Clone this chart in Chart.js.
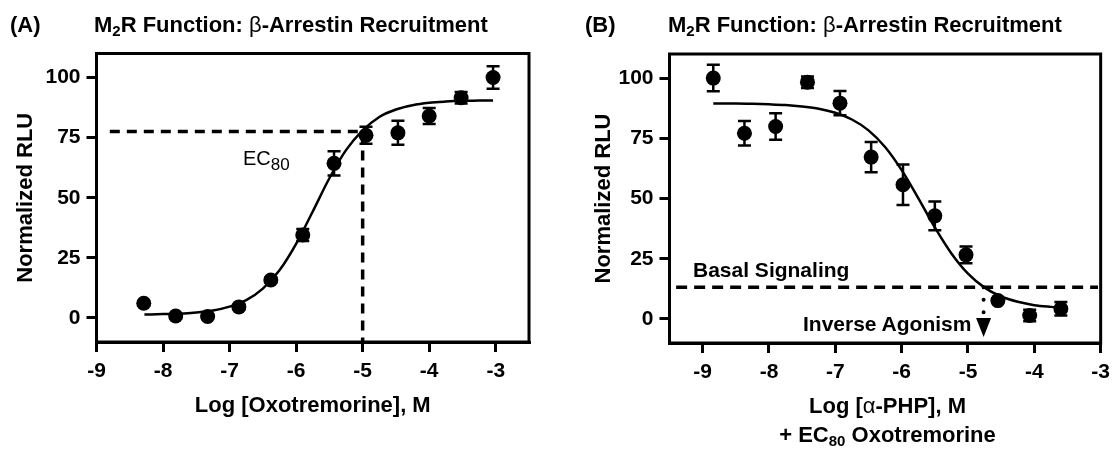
<!DOCTYPE html>
<html>
<head>
<meta charset="utf-8">
<script src="https://cdn.jsdelivr.net/npm/chart.js@4.4.1/dist/chart.umd.min.js"></script>
<style>
  body { margin: 0; background: #fff; }
  #wrap { position: relative; width: 1117px; height: 449px; overflow: hidden; font-family: "Liberation Sans", Arial, sans-serif; color: #000; }
  canvas { position: absolute; top: 0; }
  #chartA { left: 0; }
  #chartB { left: 558px; }
  .t { position: absolute; white-space: nowrap; line-height: 1; }
  .b22 { font-size: 22px; font-weight: bold; }
  .b21 { font-size: 21px; font-weight: bold; }
  .r20 { font-size: 20px; }
  .greek { font-weight: normal; }
  .sub { position: relative; top: 4px; font-size: 15px; }
</style>
</head>
<body>
<div id="wrap">
  <canvas id="chartA" width="558" height="449"></canvas>
  <canvas id="chartB" width="559" height="449"></canvas>

  <div class="t b22" style="left:10px;top:14.4px">(A)</div>
  <div class="t b22" style="left:94px;top:14.4px">M<span class="sub">2</span>R Function: <span class="greek">β</span>-Arrestin Recruitment</div>
  <div class="t b22" style="left:585px;top:14.4px">(B)</div>
  <div class="t b22" style="left:668px;top:14.4px">M<span class="sub">2</span>R Function: <span class="greek">β</span>-Arrestin Recruitment</div>

  <div class="t r20" style="left:243px;top:148px">EC<span class="sub" style="font-size:17px;top:5px">80</span></div>

  <div class="t b21" style="left:693px;top:259.2px">Basal Signaling</div>
  <div class="t b21" style="left:803px;top:313.2px">Inverse Agonism</div>

  <div class="t b22" style="left:887.5px;top:395.4px;transform:translateX(-50%)">Log [<span class="greek">α</span>-PHP], M</div>
  <div class="t b22" style="left:887.5px;top:424.4px;transform:translateX(-50%)">+ EC<span class="sub">80</span> Oxotremorine</div>
</div>

<script>
const FONT = '"Liberation Sans", Arial, sans-serif';

// axis ticks
const xTicks = [-9, -8, -7, -6, -5, -4, -3];
const yTicks = [0, 25, 50, 75, 100];

// (A) Oxotremorine agonist curve
const logOxo = [-8.29, -7.81, -7.33, -6.86, -6.38, -5.90, -5.43, -4.95, -4.47, -4.00, -3.52, -3.04];
const rluOxo = [6.1, 0.8, 0.6, 4.6, 15.8, 34.5, 64.3, 76.0, 77.0, 84.0, 91.6, 100.0];
const semOxo = [1, 1, 1, 1, 1, 2.5, 5, 3.5, 5, 3.3, 2.4, 4.7];
const fitOxoX = [-8.28, -8.0, -7.75, -7.5, -7.25, -7.0, -6.75, -6.5, -6.25, -6.0, -5.75, -5.5, -5.25, -5.0, -4.75, -4.5, -4.25, -4.0, -3.75, -3.5, -3.25, -3.04];
const fitOxoY = [1.4, 1.6, 1.8, 2.3, 3.1, 4.7, 7.4, 12.2, 19.8, 30.8, 44.3, 58.1, 69.8, 78.0, 83.6, 86.7, 88.5, 89.5, 90.0, 90.3, 90.4, 90.5];
const ec80X = [-8.8, -5.0, -5.0];
const ec80Y = [77.6, 77.6, -10];

// (B) alpha-PHP inverse agonist curve
const logPhp = [-8.84, -8.37, -7.90, -7.42, -6.93, -6.46, -5.98, -5.50, -5.03, -4.55, -4.07, -3.60];
const rluPhp = [100.0, 77.1, 79.9, 98.3, 89.6, 67.2, 55.7, 42.8, 26.6, 7.6, 1.4, 4.2];
const semPhp = [5.5, 5.1, 5.5, 2.4, 5.0, 6.3, 8.4, 6.0, 3.5, 1, 2.4, 2.8];
const fitPhpX = [-8.84, -8.5, -8.25, -8.0, -7.75, -7.5, -7.25, -7.0, -6.75, -6.5, -6.25, -6.0, -5.75, -5.5, -5.25, -5.0, -4.75, -4.5, -4.25, -4.0, -3.75, -3.6];
const fitPhpY = [89.4, 89.4, 89.3, 89.1, 88.8, 88.2, 87.3, 85.6, 82.8, 78.3, 71.4, 61.8, 50.2, 38.0, 27.2, 18.8, 13.0, 9.3, 7.1, 5.7, 5.0, 4.7];
const basalX = [-9.4, -3.04];
const basalY = [13.2, 13.2];
const inverseX = [-4.765, -4.765];
const inverseY = [13.2, 2.5];
const arrowTop = 0.4, arrowTip = -7.5;

const pts = (xs, ys) => xs.map((x, i) => ({ x: x, y: ys[i] }));

function panelPlugin(xs, ys, errs, extra) {
  return {
    id: 'panel',
    afterDatasetsDraw(chart) {
      const ctx = chart.ctx;
      const x = chart.scales.x, y = chart.scales.y;
      ctx.save();
      ctx.strokeStyle = '#000';
      ctx.fillStyle = '#000';
      ctx.lineWidth = 2.5;
      xs.forEach((v, i) => {
        const px = x.getPixelForValue(v);
        const top = y.getPixelForValue(ys[i] + errs[i]);
        const bot = y.getPixelForValue(ys[i] - errs[i]);
        ctx.beginPath();
        ctx.moveTo(px, top); ctx.lineTo(px, bot);
        ctx.moveTo(px - 6.5, top); ctx.lineTo(px + 6.5, top);
        ctx.moveTo(px - 6.5, bot); ctx.lineTo(px + 6.5, bot);
        ctx.stroke();
      });
      const a = chart.chartArea;
      ctx.lineWidth = 3;
      ctx.strokeRect(a.left, a.top, a.right - a.left, a.bottom - a.top);
      if (extra) extra(ctx, x, y);
      ctx.restore();
    }
  };
}

function axes(xmin, xmax, yWidth, xHeight, yTitlePad, xTitle) {
  const tickFont = { family: FONT, size: 21, weight: 'bold' };
  const titleFont = { family: FONT, size: 22, weight: 'bold' };
  return {
    x: {
      type: 'linear', min: xmin, max: xmax,
      afterBuildTicks: s => { s.ticks = xTicks.map(v => ({ value: v })); },
      afterFit: s => { s.height = xHeight; },
      grid: { drawOnChartArea: false, drawTicks: true, tickLength: 10, lineWidth: 3, color: '#000' },
      border: { display: true, width: 3, color: '#000' },
      ticks: { color: '#000', font: tickFont, padding: 7, maxRotation: 0 },
      title: { display: !!xTitle, text: xTitle || '', color: '#000', font: titleFont, padding: { top: 0, bottom: 30 } }
    },
    y: {
      type: 'linear', min: -10, max: 110,
      afterBuildTicks: s => { s.ticks = yTicks.map(v => ({ value: v })); },
      afterFit: s => { s.width = yWidth; },
      grid: { drawOnChartArea: false, drawTicks: true, tickLength: 10, lineWidth: 3, color: '#000' },
      border: { display: true, width: 3, color: '#000' },
      ticks: { color: '#000', font: tickFont, padding: 6 },
      title: { display: true, text: 'Normalized RLU', color: '#000', font: titleFont, padding: { top: yTitlePad, bottom: 0 } }
    }
  };
}

const common = {
  responsive: false,
  animation: false,
  devicePixelRatio: 1,
  plugins: { legend: { display: false }, tooltip: { enabled: false } }
};

new Chart(document.getElementById('chartA'), {
  type: 'scatter',
  data: {
    datasets: [
      { data: pts(logOxo, rluOxo), pointRadius: 7.5, backgroundColor: '#000', borderWidth: 0 },
      { data: pts(fitOxoX, fitOxoY), showLine: true, pointRadius: 0, borderColor: '#000', borderWidth: 2.5, cubicInterpolationMode: 'monotone' },
      { data: pts(ec80X, ec80Y), showLine: true, pointRadius: 0, borderColor: '#000', borderWidth: 3.5, borderDash: [10, 7] }
    ]
  },
  options: Object.assign({}, common, {
    layout: { padding: { left: 0, right: 29, top: 53.5, bottom: 0 } },
    scales: axes(-9, -2.5, 96.5, 107, 12.8, 'Log [Oxotremorine], M')
  }),
  plugins: [panelPlugin(logOxo, rluOxo, semOxo)]
});

new Chart(document.getElementById('chartB'), {
  type: 'scatter',
  data: {
    datasets: [
      { data: pts(logPhp, rluPhp), pointRadius: 7.5, backgroundColor: '#000', borderWidth: 0 },
      { data: pts(fitPhpX, fitPhpY), showLine: true, pointRadius: 0, borderColor: '#000', borderWidth: 2.5, cubicInterpolationMode: 'monotone' },
      { data: pts(basalX, basalY), showLine: true, pointRadius: 0, borderColor: '#000', borderWidth: 3.5, borderDash: [11, 7] },
      { data: pts(inverseX, inverseY), showLine: true, pointRadius: 0, borderColor: '#000', borderWidth: 4, borderDash: [0.1, 12.4], borderCapStyle: 'round' }
    ]
  },
  options: Object.assign({}, common, {
    layout: { padding: { left: 0, right: 11, top: 54, bottom: 0 } },
    scales: axes(-9.5, -3, 111.5, 106, 32.8, '')
  }),
  plugins: [panelPlugin(logPhp, rluPhp, semPhp, (ctx, x, y) => {
    const px = x.getPixelForValue(inverseX[0]);
    const t = y.getPixelForValue(arrowTop);
    const b = y.getPixelForValue(arrowTip);
    ctx.beginPath();
    ctx.moveTo(px - 7.5, t);
    ctx.lineTo(px + 7.5, t);
    ctx.lineTo(px, b);
    ctx.closePath();
    ctx.fill();
  })]
});
</script>
</body>
</html>
